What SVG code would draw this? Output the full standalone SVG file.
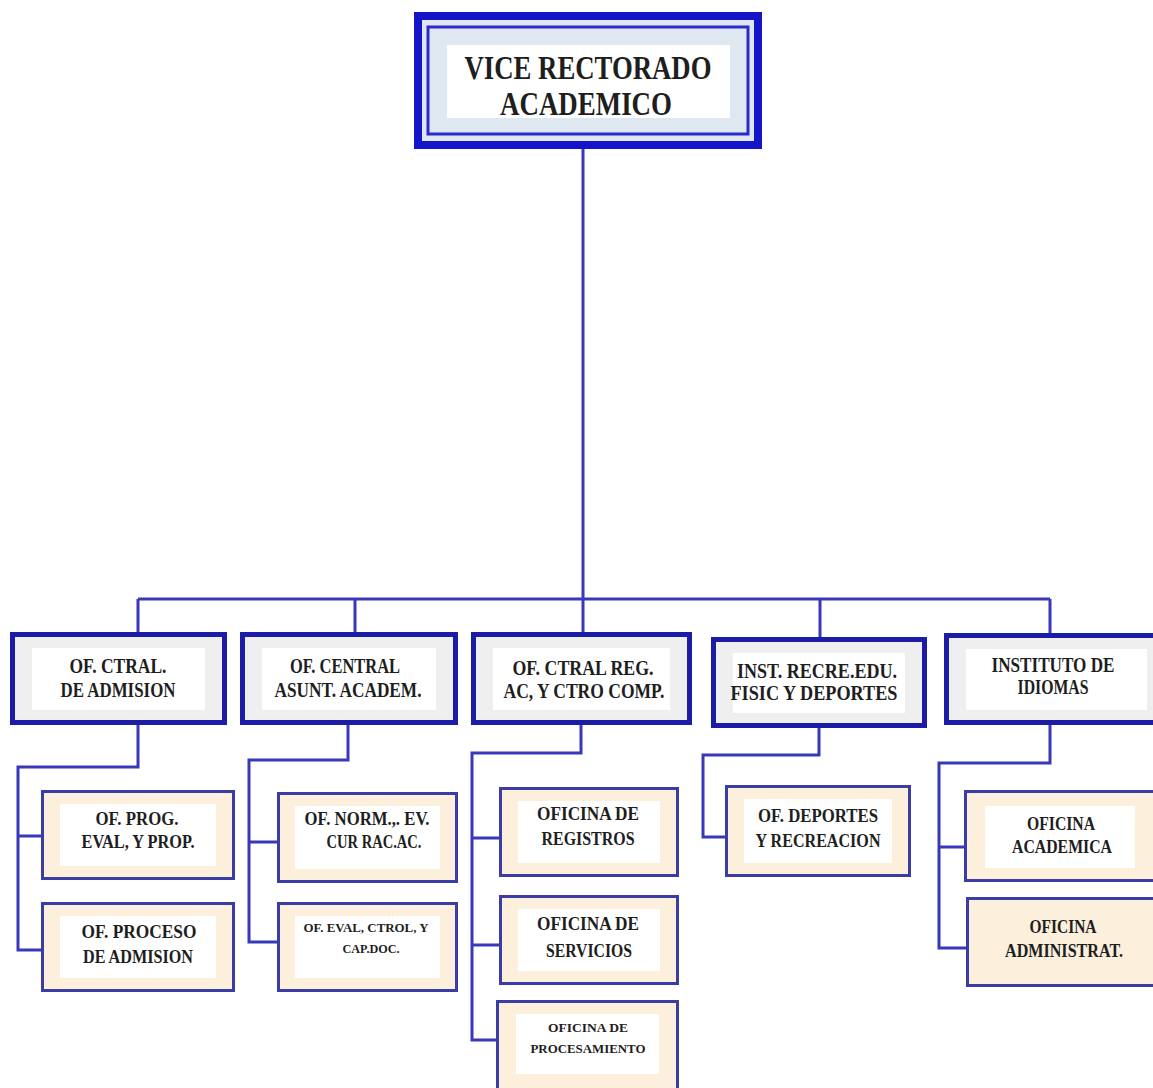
<svg xmlns="http://www.w3.org/2000/svg" width="1153" height="1088" viewBox="0 0 1153 1088">
<defs>
<style>
.bg{fill:#ffffff}
.conn{fill:none;stroke:#3838b8;stroke-width:3;stroke-linejoin:miter}
.top-out{fill:#dfe7f1;stroke:#1414c8;stroke-width:8}
.top-in{fill:none;stroke:#2a2ad0;stroke-width:3}
.panel{fill:#ffffff}
.l2{fill:#efefef;stroke:#1c1ca6;stroke-width:5}
.l3{fill:#fcefdc;stroke:#3c3ca6;stroke-width:3}
text{font-family:"Liberation Serif","Times New Roman",serif;font-weight:bold;fill:#1e1e1e;text-anchor:middle}
.t1{font-size:34px}
.t2{font-size:20px}
.t3{font-size:18px}
.t4{font-size:13px}
</style>
</defs>
<rect class="bg" x="0" y="0" width="1153" height="1088"/>

<g id="connectors">
<path class="conn" d="M583 148 V634"/>
<path class="conn" d="M138 599 H1050"/>
<path class="conn" d="M138 599 V632 M355 599 V632 M820 599 V637 M1050 599 V633"/>
<path class="conn" d="M138 725 V767 H18 V950 H41 M18 836 H41"/>
<path class="conn" d="M348 725 V760 H249 V942 H277 M249 842 H277"/>
<path class="conn" d="M581 725 V753 H472 V1040 H496 M472 838 H499 M472 945 H499"/>
<path class="conn" d="M819 728 V755 H703 V837 H725"/>
<path class="conn" d="M1050 725 V763 H939 V948 H966 M939 847 H964"/>
</g>

<g id="vice-rectorado">
<rect class="top-out" x="418" y="16" width="340" height="129"/>
<rect class="top-in" x="428" y="27" width="320" height="107"/>
<rect class="panel" x="447" y="45" width="283" height="73"/>
<text class="t1" x="588" y="79" textLength="247" lengthAdjust="spacingAndGlyphs">VICE RECTORADO</text>
<text class="t1" x="586" y="115" textLength="172" lengthAdjust="spacingAndGlyphs">ACADEMICO</text>
</g>

<g id="of-ctral-admision">
<rect class="l2" x="12.5" y="634.5" width="212" height="88"/>
<rect class="panel" x="32" y="648" width="173" height="62"/>
<text class="t2" x="118" y="673" textLength="97" lengthAdjust="spacingAndGlyphs">OF. CTRAL.</text>
<text class="t2" x="118" y="697" textLength="115" lengthAdjust="spacingAndGlyphs">DE ADMISION</text>
</g>

<g id="of-central-asunt">
<rect class="l2" x="242.5" y="634.5" width="213" height="88"/>
<rect class="panel" x="262" y="648" width="174" height="62"/>
<text class="t2" x="345" y="673" textLength="110" lengthAdjust="spacingAndGlyphs">OF. CENTRAL</text>
<text class="t2" x="348" y="697" textLength="147" lengthAdjust="spacingAndGlyphs">ASUNT.  ACADEM.</text>
</g>

<g id="of-ctral-reg">
<rect class="l2" x="473.5" y="634.5" width="216" height="88"/>
<rect class="panel" x="493" y="648" width="177" height="62"/>
<text class="t2" x="583" y="675" textLength="141" lengthAdjust="spacingAndGlyphs">OF. CTRAL  REG.</text>
<text class="t2" x="584" y="698" textLength="161" lengthAdjust="spacingAndGlyphs">AC, Y CTRO COMP.</text>
</g>

<g id="inst-recre">
<rect class="l2" x="713.5" y="639.5" width="211" height="86"/>
<rect class="panel" x="733" y="653" width="172" height="60"/>
<text class="t2" x="817" y="678" textLength="160" lengthAdjust="spacingAndGlyphs">INST. RECRE.EDU.</text>
<text class="t2" x="814" y="700" textLength="167" lengthAdjust="spacingAndGlyphs">FISIC Y DEPORTES</text>
</g>

<g id="instituto-idiomas">
<rect class="l2" x="946.5" y="635.5" width="220" height="87"/>
<rect class="panel" x="966" y="649" width="181" height="61"/>
<text class="t2" x="1053" y="672" textLength="123" lengthAdjust="spacingAndGlyphs">INSTITUTO DE</text>
<text class="t2" x="1053" y="694" textLength="71" lengthAdjust="spacingAndGlyphs">IDIOMAS</text>
</g>

<g id="of-prog-eval">
<rect class="l3" x="42.5" y="791.5" width="191" height="87"/>
<rect class="panel" x="60" y="804" width="156" height="62"/>
<text class="t3" x="137" y="825" textLength="83" lengthAdjust="spacingAndGlyphs">OF.  PROG.</text>
<text class="t3" x="138" y="848" textLength="113" lengthAdjust="spacingAndGlyphs">EVAL, Y PROP.</text>
</g>

<g id="of-proceso-admision">
<rect class="l3" x="42.5" y="903.5" width="191" height="87"/>
<rect class="panel" x="60" y="916" width="156" height="62"/>
<text class="t3" x="139" y="938" textLength="115" lengthAdjust="spacingAndGlyphs">OF.   PROCESO</text>
<text class="t3" x="138" y="963" textLength="110" lengthAdjust="spacingAndGlyphs">DE ADMISION</text>
</g>

<g id="of-norm-ev">
<rect class="l3" x="278.5" y="793.5" width="178" height="88"/>
<rect class="panel" x="295" y="806" width="145" height="63"/>
<text class="t3" x="367" y="825" textLength="125" lengthAdjust="spacingAndGlyphs">OF. NORM.,. EV.</text>
<text class="t3" x="374" y="848" textLength="95" lengthAdjust="spacingAndGlyphs">CUR RAC.AC.</text>
</g>

<g id="of-eval-ctrol">
<rect class="l3" x="278.5" y="903.5" width="178" height="87"/>
<rect class="panel" x="295" y="916" width="145" height="62"/>
<text class="t4" x="366" y="932" textLength="125" lengthAdjust="spacingAndGlyphs">OF. EVAL, CTROL, Y</text>
<text class="t4" x="371" y="953" textLength="57" lengthAdjust="spacingAndGlyphs">CAP.DOC.</text>
</g>

<g id="oficina-registros">
<rect class="l3" x="500.5" y="788.5" width="177" height="87"/>
<rect class="panel" x="518" y="801" width="142" height="62"/>
<text class="t3" x="588" y="820" textLength="102" lengthAdjust="spacingAndGlyphs">OFICINA  DE</text>
<text class="t3" x="588" y="845" textLength="93" lengthAdjust="spacingAndGlyphs">REGISTROS</text>
</g>

<g id="oficina-servicios">
<rect class="l3" x="500.5" y="896.5" width="177" height="87"/>
<rect class="panel" x="518" y="909" width="142" height="62"/>
<text class="t3" x="588" y="930" textLength="102" lengthAdjust="spacingAndGlyphs">OFICINA  DE</text>
<text class="t3" x="589" y="957" textLength="86" lengthAdjust="spacingAndGlyphs">SERVICIOS</text>
</g>

<g id="oficina-procesamiento">
<rect class="l3" x="497.5" y="1001.5" width="180" height="95"/>
<rect class="panel" x="516" y="1014" width="143" height="60"/>
<text class="t4" x="588" y="1032" textLength="80" lengthAdjust="spacingAndGlyphs">OFICINA DE</text>
<text class="t4" x="588" y="1053" textLength="115" lengthAdjust="spacingAndGlyphs">PROCESAMIENTO</text>
</g>

<g id="of-deportes">
<rect class="l3" x="726.5" y="786.5" width="183" height="89"/>
<rect class="panel" x="744" y="799" width="148" height="64"/>
<text class="t3" x="818" y="822" textLength="120" lengthAdjust="spacingAndGlyphs">OF.  DEPORTES</text>
<text class="t3" x="818" y="847" textLength="125" lengthAdjust="spacingAndGlyphs">Y RECREACION</text>
</g>

<g id="oficina-academica">
<rect class="l3" x="965.5" y="791.5" width="200" height="89"/>
<rect class="panel" x="985" y="806" width="150" height="62"/>
<text class="t3" x="1061" y="830" textLength="68" lengthAdjust="spacingAndGlyphs">OFICINA</text>
<text class="t3" x="1062" y="853" textLength="100" lengthAdjust="spacingAndGlyphs">ACADEMICA</text>
</g>

<g id="oficina-administrat">
<rect class="l3" x="967.5" y="898.5" width="200" height="87"/>
<text class="t3" x="1063" y="933" textLength="67" lengthAdjust="spacingAndGlyphs">OFICINA</text>
<text class="t3" x="1064" y="957" textLength="118" lengthAdjust="spacingAndGlyphs">ADMINISTRAT.</text>
</g>
</svg>
